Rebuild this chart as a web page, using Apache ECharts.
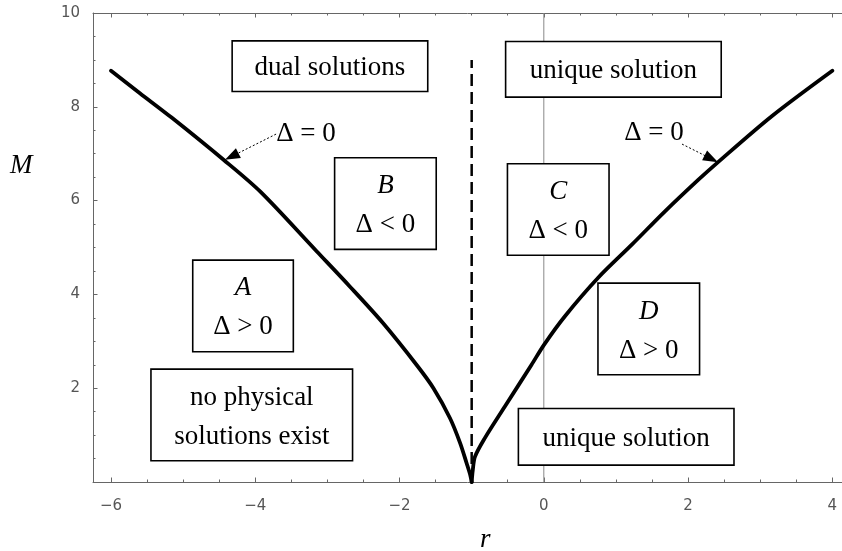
<!DOCTYPE html>
<html>
<head>
<meta charset="utf-8">
<script src="https://cdn.jsdelivr.net/npm/echarts@6/dist/echarts.min.js"></script>
<style>
  html, body { margin: 0; padding: 0; background: #fff; }
  #chart { width: 842px; height: 551px; }
</style>
</head>
<body>
<div id="chart"></div>
<script>
// Critical curve Δ = 0 in the (r, M) plane; its two branches meet at r = -1.
const leftBranch = [
  [-6.00, 8.77], [-5.60, 8.29], [-5.16, 7.77], [-4.44, 6.87], [-3.93, 6.19],
  [-3.15, 4.92], [-2.69, 4.17], [-2.23, 3.39], [-1.76, 2.49], [-1.53, 2.00],
  [-1.30, 1.36], [-1.16, 0.83], [-1.07, 0.40], [-1.02, 0.15], [-1.00, 0.00]
];
const rightBranch = [
  [-1.00, 0.00], [-0.985, 0.25], [-0.954, 0.54], [-0.82, 0.93], [-0.54, 1.61],
  [-0.17, 2.50], [0.00, 2.92], [0.29, 3.53], [0.75, 4.35], [1.22, 5.06],
  [1.68, 5.77], [2.14, 6.44], [2.40, 6.80], [3.16, 7.80], [4.00, 8.77]
];
// Vertical separatrix r = -1
const separatrix = [[-1, 0], [-1, 9]];
// Reference line r = 0
const zeroLine = [[0, 0], [0, 10]];

// Axis ticks
const xMajorTicks = [-6, -4, -2, 0, 2, 4];
const xMinorTicks = [-5.5, -5, -4.5, -3.5, -3, -2.5, -1.5, -1, -0.5, 0.5, 1, 1.5, 2.5, 3, 3.5];
const xRange = [-6.25, 4.134];
const yRange = [0, 10];

// Region annotations: name, sign of Δ (if any), anchor in (r, M)
const regionNames = ['dual solutions', 'unique solution', 'B', 'C', 'A', 'D', 'no physical\nsolutions exist', 'unique solution'];
const regionSigns = [null, null, '<', '<', '>', '>', null, null];
const regionAnchors = [
  [-2.965, 8.867], [0.965, 8.80], [-2.196, 5.936], [0.200, 5.81],
  [-4.170, 3.755], [1.455, 3.264], [-4.049, 1.43], [1.142, 0.964]
];

// "Δ = 0" pointers: label anchor, arrow tail, arrow tip
const pointerLabels = [[-3.297, 7.43], [1.527, 7.44]];
const pointerTails = [[-3.712, 7.418], [1.916, 7.205]];
const pointerTips = [[-4.420, 6.870], [2.415, 6.82]];

// Box sizes in pixels (width, height) for each region annotation
const boxSizes = [[194, 49], [214, 54], [100, 90], [100, 90], [99, 90], [100, 90], [200, 90], [214, 55]];

const SERIF = '"Liberation Serif", "Times New Roman", serif';
const LINE_H = 39;

const richStyles = {
  n: { fontFamily: SERIF, fontSize: 27, lineHeight: LINE_H, color: '#000', opacity: 1 },
  i: { fontFamily: SERIF, fontSize: 27, lineHeight: LINE_H, color: '#000', opacity: 1, fontStyle: 'italic' }
};

function regionText(k) {
  if (regionSigns[k]) {
    return '{i|' + regionNames[k] + '}\n{n|\u0394 ' + regionSigns[k] + ' 0}';
  }
  return regionNames[k].split('\n').map(s => '{n|' + s + '}').join('\n');
}

const regionData = regionAnchors.map((p, k) => {
  const lines = regionText(k).split('\n').length;
  const [w, h] = boxSizes[k];
  return {
    value: p,
    label: {
      formatter: regionText(k),
      width: w,
      padding: [(h - lines * LINE_H) / 2 + 2, 0, (h - lines * LINE_H) / 2 - 2, 0],
    }
  };
});

const pointerData = pointerLabels.map(p => ({
  value: p,
  label: { formatter: '{n|\u0394 = 0}' }
}));

const minus = v => String(v).replace('-', '\u2212');
const axisGray = '#666';
const tickFont = { fontFamily: '"DejaVu Sans", sans-serif', fontSize: 15, color: '#555' };

const chart = echarts.init(document.getElementById('chart'), null, { renderer: 'canvas' });

const xAxisBase = {
  type: 'value', min: xRange[0], max: xRange[1],
  splitLine: { show: false },
  axisLine: { show: true, onZero: false, lineStyle: { color: axisGray, width: 1 } },
};

chart.setOption({
  animation: false,
  backgroundColor: '#fff',
  grid: { left: 93, right: 0, top: 13, bottom: 69, containLabel: false },
  xAxis: [
    Object.assign({}, xAxisBase, {
      position: 'bottom',
      axisTick: { show: true, inside: true, length: 4.5, customValues: xMajorTicks, lineStyle: { color: axisGray } },
      axisLabel: Object.assign({ show: true, customValues: xMajorTicks, margin: 17, formatter: minus }, tickFont)
    }),
    Object.assign({}, xAxisBase, {
      position: 'bottom',
      axisLine: { show: false },
      axisTick: { show: true, inside: true, length: 2.5, customValues: xMinorTicks, lineStyle: { color: axisGray } },
      axisLabel: { show: false }
    }),
    Object.assign({}, xAxisBase, {
      position: 'top',
      axisTick: { show: true, inside: true, length: 4.5, customValues: xMajorTicks, lineStyle: { color: axisGray } },
      axisLabel: { show: false }
    }),
    Object.assign({}, xAxisBase, {
      position: 'top',
      axisLine: { show: false },
      axisTick: { show: true, inside: true, length: 2.5, customValues: xMinorTicks, lineStyle: { color: axisGray } },
      axisLabel: { show: false }
    })
  ],
  yAxis: [{
    type: 'value', min: yRange[0], max: yRange[1], interval: 2,
    position: 'left',
    splitLine: { show: false },
    axisLine: { show: true, onZero: false, lineStyle: { color: axisGray, width: 1 } },
    axisTick: { show: true, inside: true, length: 4.5, lineStyle: { color: axisGray } },
    minorTick: { show: true, splitNumber: 4, length: 2.5, lineStyle: { color: axisGray } },
    axisLabel: Object.assign({ margin: 13, formatter: v => (v === 0 ? '' : minus(v)) }, tickFont)
  }],
  graphic: [
    { type: 'text', left: 10, top: 152, style: { text: 'M', font: 'italic 27px ' + SERIF, fill: '#000' } },
    { type: 'text', left: 480, top: 526, style: { text: 'r', font: 'italic 27px ' + SERIF, fill: '#000' } }
  ],
  series: [
    {
      name: 'r = 0', type: 'line', data: zeroLine, symbol: 'none', z: 1,
      lineStyle: { color: '#888', width: 1 },
      markLine: {
        silent: true, animation: false,
        symbol: ['none', 'triangle'], symbolSize: [11, 15],
        symbolOffset: [0, [0, 7.5]],
        label: { show: false },
        itemStyle: { color: '#000', opacity: 1 },
        lineStyle: { color: '#000', width: 1, type: [2, 2], opacity: 1 },
        emphasis: { disabled: true },
        data: pointerTails.map((t, k) => [{ coord: t }, { coord: pointerTips[k] }])
      }
    },
    {
      name: 'separatrix', type: 'line', data: separatrix, symbol: 'none', z: 2,
      lineStyle: { color: '#000', width: 2.5, type: [12, 6] }
    },
    {
      name: 'Δ = 0 (r < -1)', type: 'line', data: leftBranch, symbol: 'none', z: 3,
      smooth: 0.3,
      lineStyle: { color: '#000', width: 3.8, join: 'round', cap: 'round' }
    },
    {
      name: 'Δ = 0 (r > -1)', type: 'line', data: rightBranch, symbol: 'none', z: 3,
      smooth: 0.3,
      lineStyle: { color: '#000', width: 3.8, join: 'round', cap: 'round' }
    },
    {
      name: 'regions', type: 'scatter', data: regionData, symbolSize: 0, z: 5,
      silent: true,
      itemStyle: { opacity: 1 },
      label: {
        show: true, position: 'inside', align: 'center', verticalAlign: 'middle',
        backgroundColor: '#fff', borderColor: '#000', borderWidth: 1.6, opacity: 1,
        rich: richStyles
      }
    },
    {
      name: 'pointers', type: 'scatter', data: pointerData, symbolSize: 0, z: 5,
      silent: true,
      itemStyle: { opacity: 1 },
      label: {
        show: true, position: 'inside', align: 'center', verticalAlign: 'middle', opacity: 1,
        rich: richStyles
      }
    }
  ]
});
</script>
</body>
</html>
